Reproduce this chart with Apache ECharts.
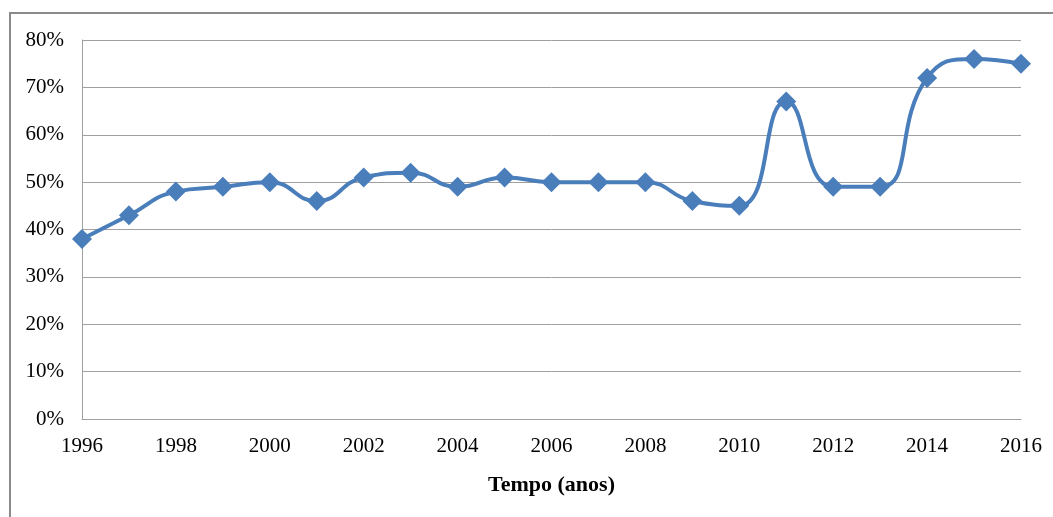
<!DOCTYPE html>
<html>
<head>
<meta charset="utf-8">
<script src="https://cdn.jsdelivr.net/npm/echarts@6/dist/echarts.min.js"></script>
<style>
html,body{margin:0;padding:0;background:#fff;}
#chart{width:1053px;height:517px;}
</style>
</head>
<body>
<div id="chart"></div>
<script>
const years = [1996,1997,1998,1999,2000,2001,2002,2003,2004,2005,2006,2007,2008,2009,2010,2011,2012,2013,2014,2015,2016];
const values = [38,43,48,49,50,46,51,52,49,51,50,50,50,46,45,67,49,49,72,76,75];
const xAxisName = 'Tempo (anos)';

const chart = echarts.init(document.getElementById('chart'));
const font = '"Liberation Serif","Times New Roman",serif';
chart.setOption({
  animation: false,
  backgroundColor: '#fff',
  graphic: [{
    type: 'rect',
    shape: {x: 10, y: 13, width: 1100, height: 600},
    style: {fill: 'none', stroke: '#8a8a8a', lineWidth: 2},
    silent: true
  }],
  grid: {left: 82, right: 32, top: 40, bottom: 98},
  xAxis: {
    type: 'value',
    min: 1996, max: 2016, interval: 2,
    name: xAxisName,
    nameLocation: 'middle',
    nameGap: 55,
    nameTextStyle: {fontFamily: font, fontSize: 22, fontWeight: 'bold', color: '#000'},
    axisLine: {show: true, lineStyle: {color: '#a0a0a0', width: 1}},
    axisTick: {show: false},
    splitLine: {show: false},
    axisLabel: {fontFamily: font, fontSize: 21, color: '#000', margin: 17, formatter: v => String(v)}
  },
  yAxis: {
    type: 'value',
    min: 0, max: 80, interval: 10,
    axisLine: {show: true, lineStyle: {color: '#a0a0a0', width: 1}},
    axisTick: {show: false},
    splitLine: {show: true, lineStyle: {color: '#a0a0a0', width: 1}},
    axisLabel: {fontFamily: font, fontSize: 21, color: '#000', margin: 18, formatter: v => v + '%'}
  },
  series: [{
    type: 'line',
    data: years.map((y, i) => [y, values[i]]),
    smooth: 0.5,
    symbol: 'diamond',
    symbolSize: 20,
    lineStyle: {color: '#4a7ebb', width: 4},
    itemStyle: {color: '#4a7ebb'},
    clip: false
  }]
});
</script>
</body>
</html>
